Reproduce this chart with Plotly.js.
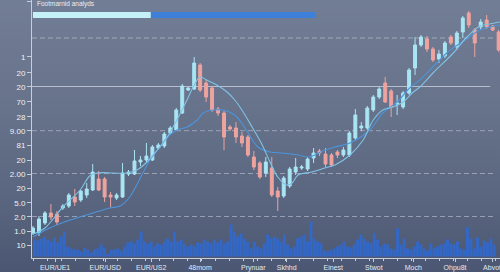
<!DOCTYPE html>
<html><head><meta charset="utf-8">
<script src="https://cdn.plot.ly/plotly-3.0.1.min.js"></script>
<style>
html,body{margin:0;padding:0;width:500px;height:272px;overflow:hidden;
background:linear-gradient(180deg,#727e95 0%,#67728b 40%,#59647e 75%,#4b5672 100%);}
#chart{width:500px;height:272px;}
</style>
</head><body><div id="chart"></div>
<script>
// ---- data ----
const titleText = "Footmarnid analyds";
const candleIdx = Array.from({length:79},(_,i)=>i);
const openP  = [25,25,35,45,44,50,52,61,58,63,68,79,79,63,60,61,84,84,96,98,98,110,112,125,128,145,168,169,193,175,170,149,145,131,130,122,121,101,95,85,90,67,62,72,86,90,89,100,107,104,103,106,103,103,120,130,130,148,161,175,167,154,151,165,190,213,219,209,199,202,221,211,226,245,228,231,238,232,226];
const highP  = [32,42,47,54,47,54,65,69,68,75,94,87,81,66,65,95,88,108,102,115,113,115,126,132,150,174,171,201,195,178,172,151,147,133,136,126,123,107,97,101,101,71,82,91,100,93,101,110,109,110,105,108,111,127,149,136,152,163,171,181,169,163,167,190,221,223,222,211,208,217,223,227,242,247,230,239,243,233,228];
const lowP   = [23,22,33,38,33,48,50,52,56,60,67,67,56,51,58,60,82,83,92,96,97,108,110,123,127,144,167,168,166,156,146,142,108,127,115,111,101,88,79,81,61,47,60,70,83,88,87,95,102,91,91,100,101,101,118,127,128,146,159,155,141,143,149,163,183,211,206,196,195,200,213,208,220,230,201,228,229,227,206];
const closeP = [30,39,45,41,36,52,63,56,67,69,86,68,61,61,63,85,86,97,98,102,111,113,124,130,148,172,170,195,168,161,148,145,121,129,121,115,103,91,81,96,63,61,80,89,91,91,99,105,105,94,93,103,108,125,143,132,150,161,169,156,151,155,165,188,213,221,209,198,204,215,215,225,240,233,215,236,231,228,208];

const fastIdx = [0,2,5,7.9,9.5,10.7,15.7,17.4,19.1,20.8,22.4,24.1,25.8,27,28,29.1,30.8,32.5,33.8,35,36.7,38.4,39.7,41,42.5,43.4,44.4,46.7,48.9,50.6,53.1,55.3,57,58.6,60.3,62,63.7,64.8,67,70.4,72.7,74.9,76.5,78.2];
const fastVal = [24,30,51,68,82,85,85,88,96,108,120,138,158,173,181,178,173,166,158,148,131,113,96,81,73,75,83,86,90,93,103,118,138,148,151,156,166,171,185,205,221,232,234,236];
const slowIdx = [0,2.8,6.2,9.5,12.9,14.6,16.2,18.4,19.6,21.3,22.4,24.1,25.8,27.5,28.5,30.2,31.8,33.8,35.5,37.7,39.7,41.7,44.4,46.1,48.9,50.6,53.1,56.4,58.6,61,63.1,64.8,67.3,69.9,72.4,74.9,78.2];
const slowVal = [21,30,38,44,50,52,61,85,98,111,120,128,131,138,145,148,148,143,130,111,106,105,103,101,108,111,115,128,145,156,170,178,193,208,218,228,233];

const volume = [17,16,18,20,17,15,19,14,20,25,10,8,7,7,5,9,7,4,7,8,12,9,3,7,7,8,6,10,14,15,13,17,25,15,13,15,10,13,12,15,18,15,25,15,17,13,10,12,10,14,13,17,15,13,17,14,17,13,15,32,25,20,23,18,15,
  8,15,10,8,13,22,18,20,18,15,22,12,8,10,18,20,22,15,35,18,15,13,6,5,7,8,10,12,15,10,9,12,17,22,18,15,13,23,17,10,13,12,8,7,28,12,18,8,7,10,15,12,8,6,13,8,10,12,13,17,13,12,15,8,7,29,18,8,19,10,16,14,18,12];
const volIdx = volume.map((_,i)=>i);

const xTickIdx = [3.7,12.1,19.8,28.0,36.9,42.5,50.3,57.1,63.7,70.7,76.9];
const xTickLabels = ["EUR/UE1","EUR/USD","EUR/US2","48mom","Prynuar","Skhhd","Einest","Stwot","Moch","Ohpu8t","Abvot"];
const yTickVals = [257,201.3,185.3,171.3,156.3,141.3,127.3,113,98,84,70,55.3,41.3,27,13];
const yTickLabels = ["75","1","20","20","70","28","9.00","81","20","2.00","20","5.0","2.0","1.0","10"];
const gridDashed = [220,127.3,84.5,41.5];
const gridSolid = [171.5];

// ---- traces ----
const traces = [
  {type:'bar', x:volIdx, y:volume, xaxis:'x', yaxis:'y',
   marker:{color:'rgba(46,106,212,0.85)', line:{width:0}}, hoverinfo:'skip', showlegend:false},
  {type:'scatter', mode:'lines', x:slowIdx, y:slowVal, xaxis:'x2', yaxis:'y2',
   line:{color:'#4c95dc', width:1.1, shape:'spline'}, hoverinfo:'skip', showlegend:false},
  {type:'scatter', mode:'lines', x:fastIdx, y:fastVal, xaxis:'x2', yaxis:'y2',
   line:{color:'#7fc3e6', width:1.1, shape:'spline'}, hoverinfo:'skip', showlegend:false},
  {type:'candlestick', x:candleIdx, open:openP, high:highP, low:lowP, close:closeP,
   xaxis:'x2', yaxis:'y2', whiskerwidth:0,
   increasing:{line:{color:'#a9e5f2', width:1}, fillcolor:'#a9e5f2'},
   decreasing:{line:{color:'#eea39f', width:1}, fillcolor:'#eea39f'},
   hoverinfo:'skip', showlegend:false}
];

const shapes = [];
gridDashed.forEach(v=>shapes.push({type:'line', xref:'paper', yref:'y2', x0:0, x1:0.99, y0:v, y1:v,
  line:{color:'rgba(200,208,220,0.55)', width:1, dash:'5px,3px'}, layer:'below'}));
gridSolid.forEach(v=>shapes.push({type:'line', xref:'paper', yref:'y2', x0:0, x1:0.979, y0:v, y1:v,
  line:{color:'rgba(215,222,232,0.7)', width:1.2}, layer:'below'}));
shapes.push({type:'rect', xref:'paper', yref:'paper', x0:0.002, x1:0.254, y0:0.930, y1:0.9535,
  fillcolor:'#c4f1f8', line:{width:0}});
shapes.push({type:'rect', xref:'paper', yref:'paper', x0:0.254, x1:0.605, y0:0.930, y1:0.9535,
  fillcolor:'#3d7fd9', line:{width:0}});

const axisCol = '#c6ced9';
const layout = {
  width:500, height:272,
  margin:{l:32, r:0, t:0, b:14, pad:0},
  paper_bgcolor:'rgba(0,0,0,0)', plot_bgcolor:'rgba(0,0,0,0)',
  font:{family:'Liberation Sans, Arial, sans-serif', color:'#e8edf3'},
  bargap:0.08,
  showlegend:false,
  xaxis:{range:[-0.75,139.75], visible:false, rangeslider:{visible:false}, fixedrange:true},
  yaxis:{range:[-1.5,256.5], visible:false, fixedrange:true},
  xaxis2:{overlaying:'x', anchor:'y2', side:'bottom', range:[-0.167,78.23], rangeslider:{visible:false},
    showgrid:false, zeroline:false, showline:true, linecolor:axisCol, linewidth:1,
    tickmode:'array', tickvals:xTickIdx, ticktext:xTickLabels, ticks:'outside', ticklen:3, tickcolor:axisCol,
    ticklabeloverflow:'allow',
    tickfont:{size:7, color:'#e4eaf2'},
    minor:{ticks:'outside', ticklen:2, tickcolor:axisCol, tick0:0, dtick:2.35}, fixedrange:true},
  yaxis2:{overlaying:'y', anchor:'x2', side:'left', range:[0,258],
    showgrid:false, zeroline:false, showline:true, linecolor:axisCol, linewidth:1,
    tickmode:'array', tickvals:yTickVals, ticktext:yTickLabels, ticks:'outside', ticklen:4, tickcolor:axisCol,
    tickfont:{size:8, color:'#eef2f6'}, fixedrange:true},
  shapes:shapes,
  annotations:[{text:titleText, xref:'paper', yref:'paper', x:0.006, y:0.984, xanchor:'left', yanchor:'middle',
    showarrow:false, font:{size:6.5, color:'#e8eef4'}}]
};

Plotly.newPlot('chart', traces, layout, {staticPlot:true, displayModeBar:false});
</script></body></html>
